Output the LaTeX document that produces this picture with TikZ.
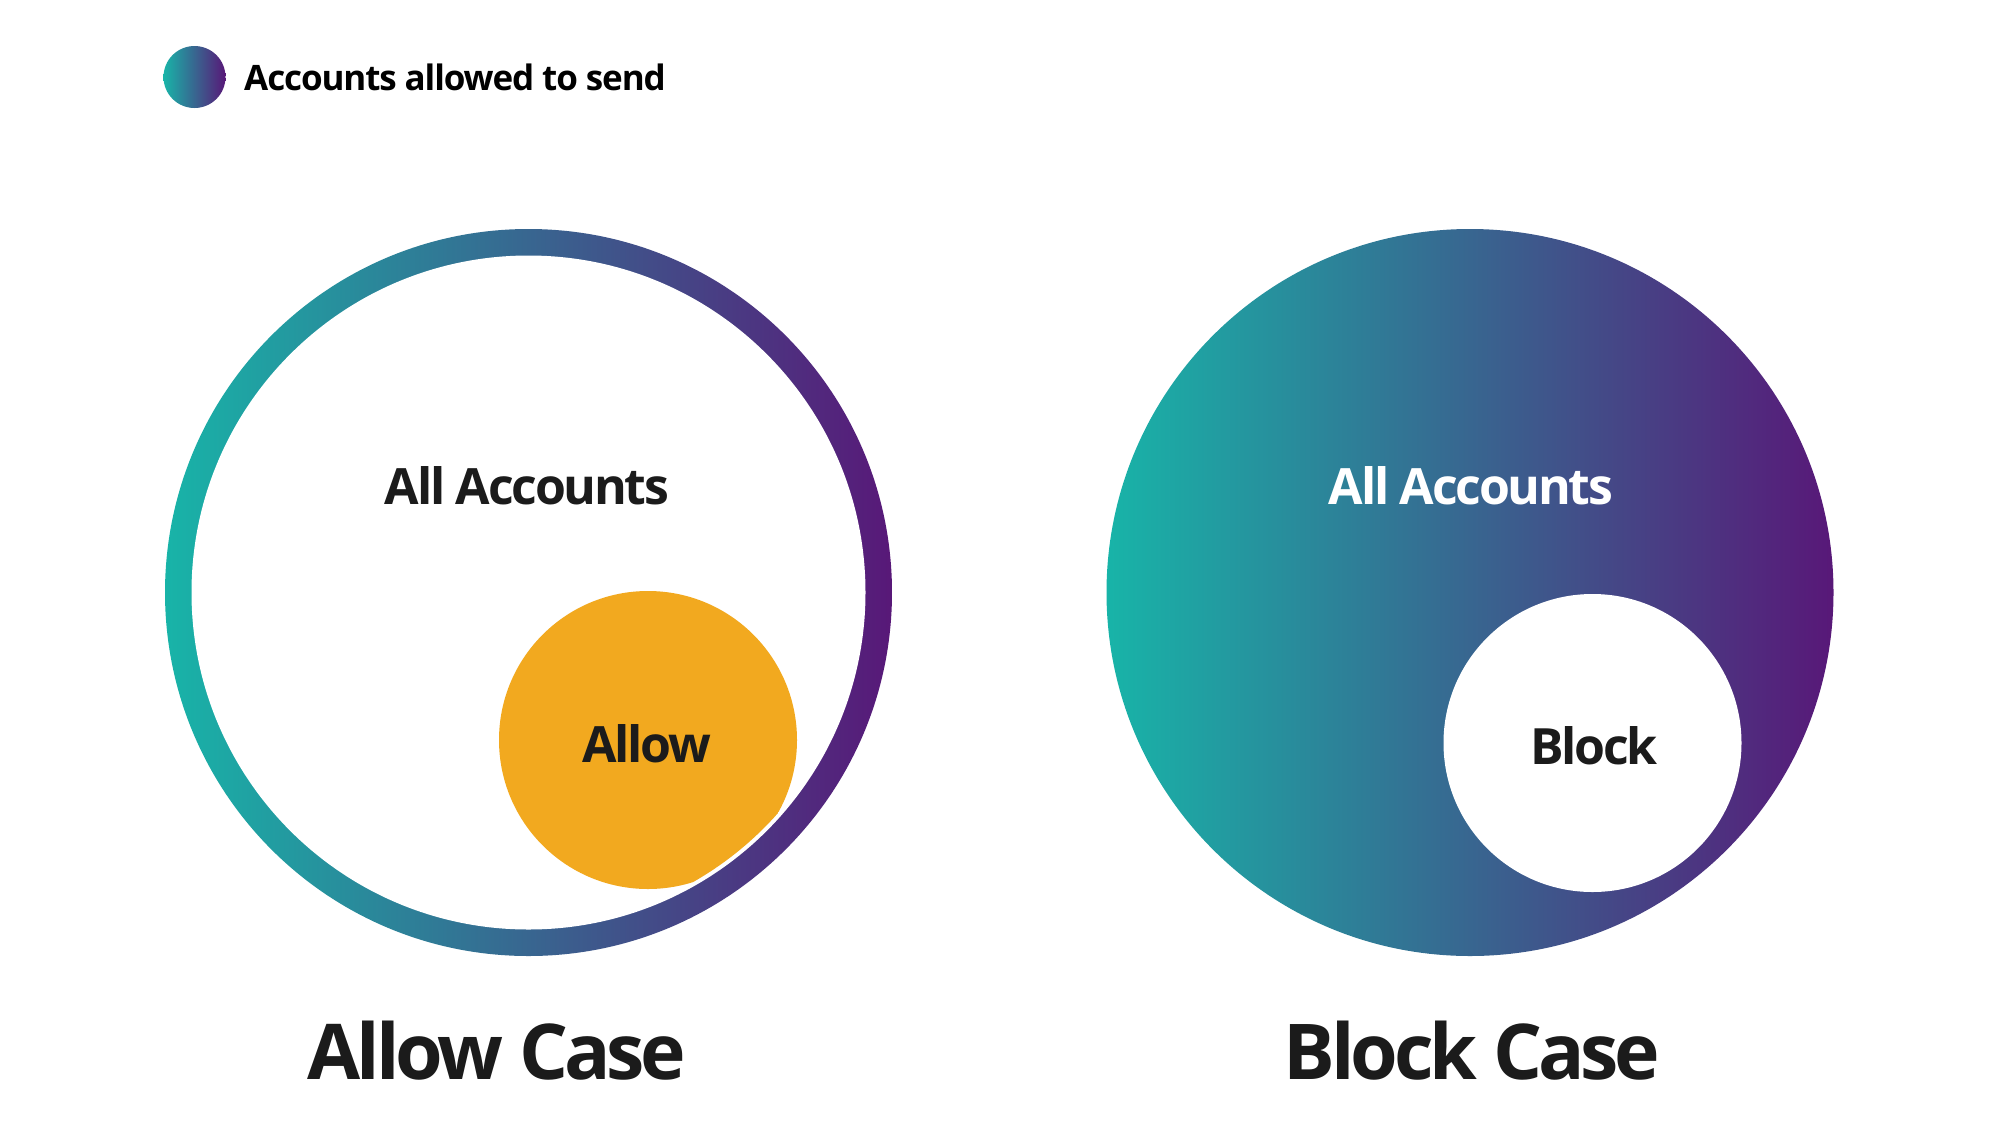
\documentclass[tikz,border=0pt]{standalone}
\usepackage{fontspec}
\setmainfont{Open Sans}
\newfontfamily\lblfont[LetterSpace=-4.6]{Open Sans}
\newfontfamily\titlefont[LetterSpace=-5.3]{Open Sans}
\newfontfamily\legfont[LetterSpace=-3.2]{Open Sans}
\definecolor{gteal}{RGB}{24,180,168}
\definecolor{gpurple}{RGB}{88,24,120}
\definecolor{aorange}{RGB}{242,169,31}
\definecolor{txt}{RGB}{27,27,27}
\tikzset{
  grad/.style={left color=gteal, right color=gpurple, draw=none},
  lbl/.style={anchor=base, inner sep=0pt, text=txt, font=\lblfont\bfseries\fontsize{50}{60}\selectfont},
  title/.style={anchor=base, inner sep=0pt, text=txt, font=\titlefont\bfseries\fontsize{77}{90}\selectfont},
}
\begin{document}
\begin{tikzpicture}[x=1pt,y=-1pt]
\useasboundingbox[fill=white] (0,0) rectangle (2000,1144);
% legend
\shade[grad] (194.5,77) circle (31);
\node[anchor=base west, inner sep=0pt, text=black, font=\legfont\bfseries\fontsize{35}{42}\selectfont] (legend) at (244,90) {Accounts allowed to send};
% left: allow case
\shade[grad] (528.5,592.5) circle (363.5);
\fill[white] (528.5,592.5) circle (337);
\begin{scope}
\clip (528.5,592.5) circle (333);
\fill[aorange] (648,740) circle (149);
\end{scope}
\node[lbl] (allL) at (527,504) {All Accounts};
\node[lbl] (allow) at (647,762) {Allow};
\node[title] (allowcase) at (497,1079) {Allow Case};
% right: block case
\shade[grad] (1470,592.5) circle (363.5);
\fill[white] (1592.5,743) circle (149);
\node[lbl, text=white] (allR) at (1471,504) {All Accounts};
\node[lbl] (block) at (1594,764) {Block};
\node[title] (blockcase) at (1472,1079) {Block Case};
\end{tikzpicture}
\end{document}
